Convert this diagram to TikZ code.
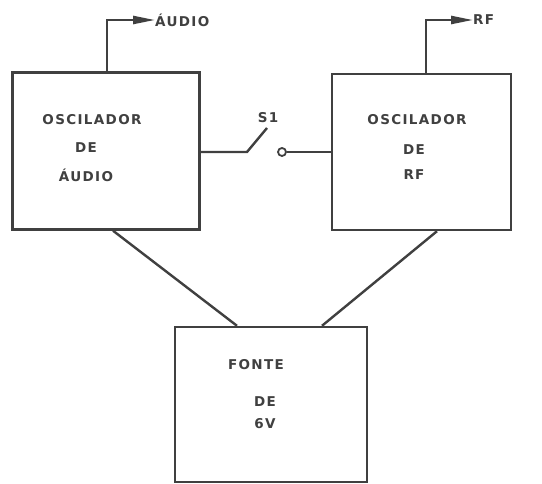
\documentclass[tikz,border=0pt]{standalone}
\usepackage{fontspec}
\setsansfont[LetterSpace=10]{DejaVu Sans}
\usepackage{xcolor}
\usepackage{tikz}
\usetikzlibrary{arrows.meta,positioning,calc}
\definecolor{ink}{HTML}{404040}

\begin{document}
\begin{tikzpicture}[x=1pt,y=-1pt,>={Triangle[length=22pt,width=8pt]},
  bloco/.style={draw=ink,line width=2.4pt,rectangle,inner sep=0pt},
  rotulo/.style={text=ink,font=\sffamily\bfseries\fontsize{13.5}{15}\selectfont,inner sep=0pt},
  fio/.style={draw=ink,line width=2.4pt}]
\useasboundingbox[fill=white] (0,0) rectangle (542,484);

% blocos
\node[bloco,minimum width=187pt,minimum height=157pt] (oscaudio) at (106,151) {};
\node[bloco,minimum width=179pt,minimum height=156pt] (oscrf) at (421.5,152) {};
\node[bloco,minimum width=192pt,minimum height=155pt] (fonte) at (271,404.5) {};

% textos dos blocos
\node[rotulo] (ta1) at (92,120) {OSCILADOR};
\node[rotulo] (ta2) at (86,148) {DE};
\node[rotulo] (ta3) at (86,175) {ÁUDIO};
\node[rotulo] (tr1) at (417,120) {OSCILADOR};
\node[rotulo] (tr2) at (414,150) {DE};
\node[rotulo] (tr3) at (414,175) {RF};
\node[rotulo] (tf1) at (256,365) {FONTE};
\node[rotulo] (tf2) at (265,402) {DE};
\node[rotulo] (tf3) at (265,424) {6V};

% saidas
\node[rotulo,anchor=west] (saiaudio) at (155,20) {ÁUDIO};
\node[rotulo,anchor=west] (sairf) at (473,20) {RF};
\draw[fio,->] ($(oscaudio.north)+(1,0)$) |- (saiaudio.west);
\draw[fio,->] ($(oscrf.north)+(4.5,0)$) |- (sairf.west);

% chave S1
\coordinate (pivo) at (247,152);
\coordinate (lamina) at (267,128);
\node[draw=ink,line width=1.8pt,circle,minimum size=8pt,inner sep=0pt] (contato) at (282,152) {};
\node[rotulo] (s1) at (268,118) {S1};
\draw[fio] (oscaudio.east |- pivo) -- (pivo) -- (lamina);
\draw[fio] (contato) -- (oscrf.west |- contato);

% alimentacao
\draw[fio] ($(oscaudio.south)+(7,0)$) -- ($(fonte.north)+(-34,0)$);
\draw[fio] ($(oscrf.south)+(15.5,0)$) -- ($(fonte.north)+(51,0)$);
\end{tikzpicture}
\end{document}
